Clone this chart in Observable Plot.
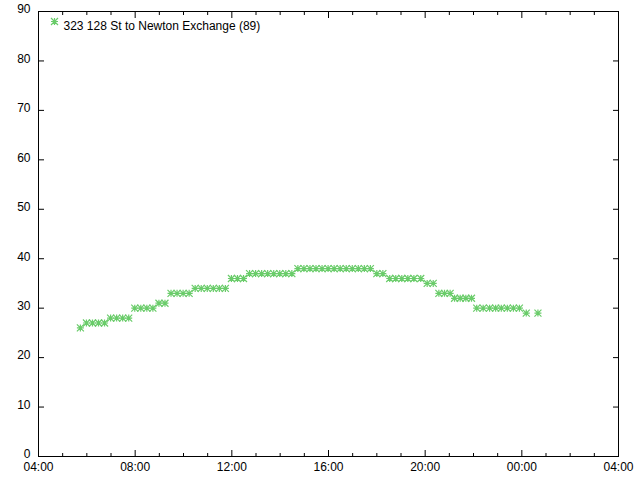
<!DOCTYPE html>
<html><head><meta charset="utf-8">
<script src="https://cdn.jsdelivr.net/npm/d3@7"></script>
<script src="https://cdn.jsdelivr.net/npm/@observablehq/plot@0.6"></script>
<style>body{margin:0;background:#fff}</style>
</head><body><div id="chart"></div>
<script>
const seriesName = "323 128 St to Newton Exchange (89)";
const times = ["05:44","05:59","06:14","06:29","06:44","06:59","07:14","07:29","07:44","07:59",
  "08:14","08:29","08:44","08:59","09:14","09:29","09:44","09:59","10:14","10:29",
  "10:44","10:59","11:14","11:29","11:44","11:59","12:14","12:29","12:44","12:59",
  "13:14","13:29","13:44","13:59","14:14","14:29","14:44","14:59","15:14","15:29",
  "15:44","15:59","16:14","16:29","16:44","16:59","17:14","17:29","17:44","18:00",
  "18:15","18:32","18:47","19:02","19:17","19:32","19:49","20:05","20:20","20:34",
  "20:48","21:02","21:13","21:27","21:41","21:55","22:08","22:24","22:40","22:55",
  "23:09","23:24","23:39","23:54","00:11","00:40"];
const values = [26,27,27,27,27,28,28,28,28,30,
  30,30,30,31,31,33,33,33,33,34,
  34,34,34,34,34,36,36,36,37,37,
  37,37,37,37,37,37,38,38,38,38,
  38,38,38,38,38,38,38,38,38,37,
  37,36,36,36,36,36,36,35,35,33,
  33,33,32,32,32,32,30,30,30,30,
  30,30,30,30,29,29];
const yTicks = [0,10,20,30,40,50,60,70,80,90];
const xStartHour = 4;            // axis runs 04:00 -> 04:00 next day
const xMajorStepHours = 4;
const seriesColor = "#6acc6a";

const day = (h, m) => new Date(Date.UTC(2024, 0, 1, h, m));
const parseT = s => {
  const [h, m] = s.split(":").map(Number);
  return h < xStartHour ? day(h + 24, m) : day(h, m);
};
const data = times.map((t, i) => ({t: parseT(t), v: values[i]}));
const x0 = day(xStartHour, 0), x1 = day(xStartHour + 24, 0);
const majorTicks = d3.range(0, 25, xMajorStepHours).map(h => day(xStartHour + h, 0));
const minorTicks = d3.range(0, 25, 1).filter(h => h % xMajorStepHours).map(h => day(xStartHour + h, 0));

const star = {
  draw(ctx, size) {
    const r = Math.sqrt(size / Math.PI);
    ctx.moveTo(-r, 0); ctx.lineTo(r, 0);
    ctx.moveTo(0, -r); ctx.lineTo(0, r);
    ctx.moveTo(-r, -r); ctx.lineTo(r, r);
    ctx.moveTo(-r, r); ctx.lineTo(r, -r);
  }
};

const chart = Plot.plot({
  width: 640, height: 480,
  marginLeft: 38, marginRight: 22, marginTop: 11, marginBottom: 24,
  style: {fontFamily: "'Liberation Sans', Arial, sans-serif", fontSize: "12px", color: "black", background: "white"},
  x: {type: "utc", domain: [x0, x1]},
  y: {domain: [0, 90]},
  marks: [
    Plot.frame({stroke: "black"}),
    Plot.axisX({anchor: "bottom", ticks: majorTicks, tickFormat: "%H:%M", tickSize: 0, tickPadding: 6, label: null}),
    Plot.axisX({anchor: "bottom", ticks: majorTicks, tickFormat: () => "", tickSize: -6, label: null}),
    Plot.axisX({anchor: "bottom", ticks: minorTicks, tickFormat: () => "", tickSize: -3, label: null}),
    Plot.axisX({anchor: "top", ticks: majorTicks, tickFormat: () => "", tickSize: -6, label: null}),
    Plot.axisX({anchor: "top", ticks: minorTicks, tickFormat: () => "", tickSize: -3, label: null}),
    Plot.axisY({anchor: "left", ticks: yTicks, tickSize: 0, tickPadding: 8, dy: -2, label: null}),
    Plot.axisY({anchor: "left", ticks: yTicks, tickFormat: () => "", tickSize: -6, label: null}),
    Plot.axisY({anchor: "right", ticks: yTicks, tickFormat: () => "", tickSize: -6, label: null}),
    Plot.dot(data, {x: "t", y: "v", symbol: star, r: 3.5, stroke: seriesColor, strokeWidth: 1.2}),
    Plot.dot([seriesName], {frameAnchor: "top-left", dx: 16, dy: 10, symbol: star, r: 3.5, stroke: seriesColor, strokeWidth: 1.2}),
    Plot.text([seriesName], {text: d => d, frameAnchor: "top-left", dx: 25, dy: 10, textAnchor: "start", fill: "black"})
  ]
});
document.getElementById("chart").append(chart);
</script>
</body></html>
